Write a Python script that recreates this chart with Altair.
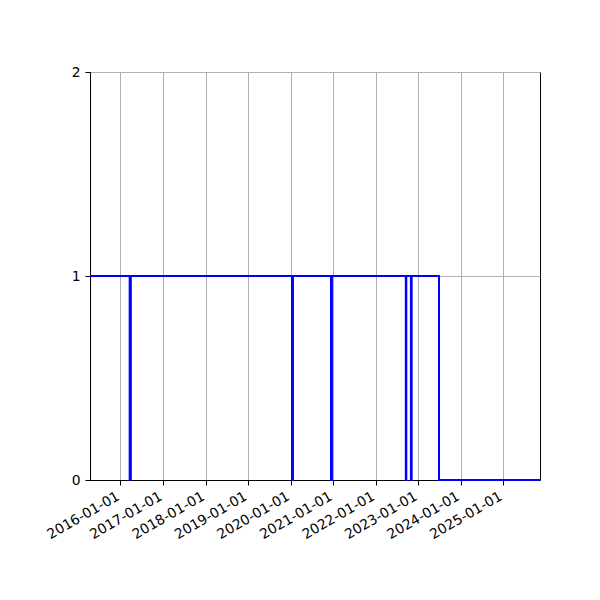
import altair as alt
import pandas as pd

# step series: date where the value changes, and the new value
dates = [
    "2015-04-14", "2016-03-20", "2016-03-30",
    "2020-01-14", "2020-01-22",
    "2020-12-14", "2020-12-22",
    "2022-09-18", "2022-09-22",
    "2022-11-01", "2022-11-07",
    "2023-06-30", "2025-11-14",
]
values = [1, 0, 1, 0, 1, 0, 1, 0, 1, 0, 1, 0, 0]

tick_years = list(range(2016, 2026))
y_ticks = [0.0, 1.0, 2.0]

df = pd.DataFrame({"date": [d + "T00:00:00" for d in dates], "value": values})

x_scale = alt.Scale(
    domain=[alt.DateTime(year=2015, month=4, date=14),
            alt.DateTime(year=2025, month=11, date=14)],
    nice=False,
)

chart = (
    alt.Chart(df)
    .mark_line(interpolate="step-after", color="#0000ff", strokeWidth=2)
    .encode(
        x=alt.X(
            "date:T",
            scale=x_scale,
            title=None,
            axis=alt.Axis(
                values=[alt.DateTime(year=y, month=1, date=1) for y in tick_years],
                format="%Y-%m-%d",
                labelAngle=-30,
                labelAlign="right",
                labelBaseline="top",
                labelOffset=-6,
                labelPadding=4,
                grid=True,
                labelOverlap=False,
                labelFlush=False,
            ),
        ),
        y=alt.Y(
            "value:Q",
            scale=alt.Scale(domain=[0, 2], nice=False, zero=False),
            title=None,
            axis=alt.Axis(values=y_ticks, grid=True, labelPadding=5,
                          labelExpr="format(datum.value, 'd')",
                          labelOverlap=False, labelFlush=False),
        ),
    )
    .properties(
        width=450,
        height=408,
        background="white",
        autosize=alt.AutoSizeParams(type="none"),
        padding={"left": 82, "top": 64, "right": 52, "bottom": 104},
    )
    .configure_axis(
        labelFont="DejaVu Sans",
        labelFontSize=13.9,
        labelColor="black",
        tickColor="black",
        tickSize=5,
        tickWidth=1,
        domainColor="black",
        domainWidth=1,
        gridColor="#b0b0b0",
        gridWidth=1,
    )
    .configure_view(stroke="black", strokeWidth=1)
)

chart.save("out.html", embed_options={"renderer": "svg", "actions": False})
